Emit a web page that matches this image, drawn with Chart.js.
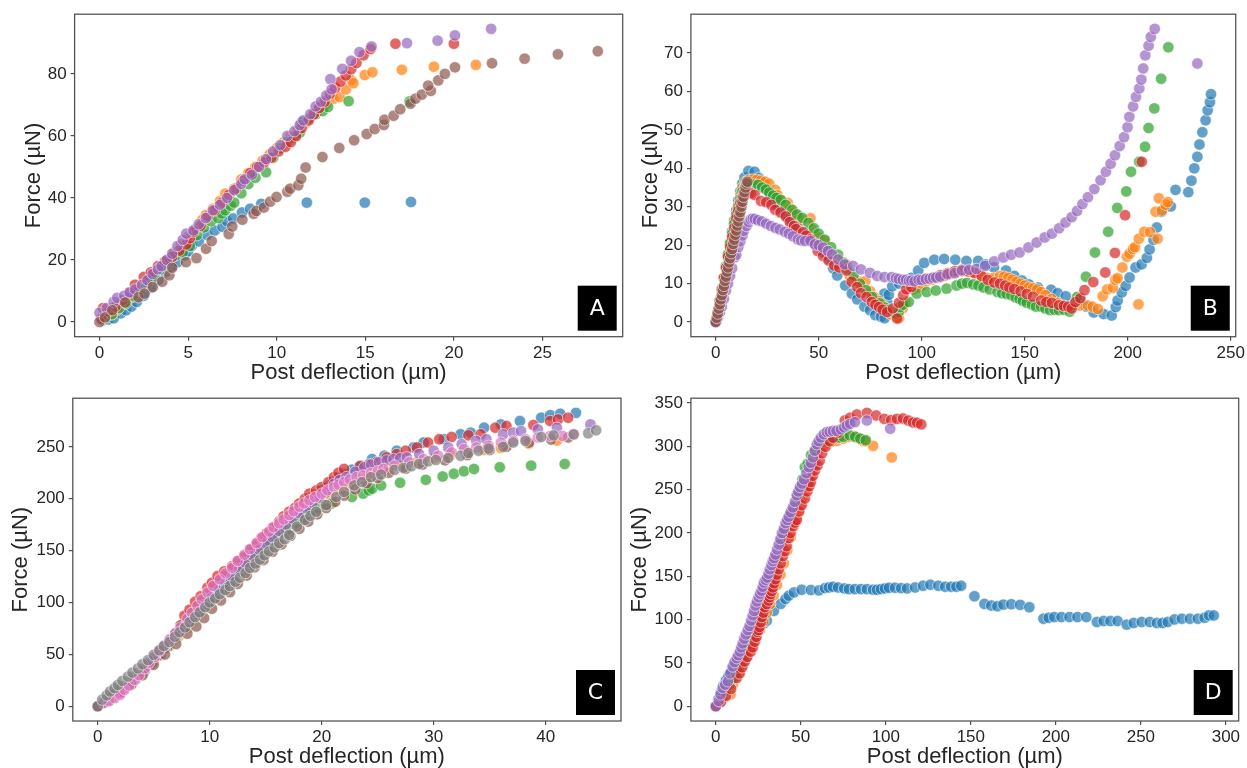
<!DOCTYPE html>
<html>
<head>
<meta charset="utf-8">
<script src="https://cdn.jsdelivr.net/npm/chart.js@4.4.0/dist/chart.umd.min.js"></script>
<style>
  html, body { margin: 0; padding: 0; background: #fff; }
  body { width: 1247px; height: 768px; position: relative; overflow: hidden; }
  canvas { position: absolute; }
</style>
</head>
<body>
<canvas id="cA" width="630" height="384" style="left:0;top:0"></canvas>
<canvas id="cB" width="617" height="384" style="left:630px;top:0"></canvas>
<canvas id="cC" width="630" height="384" style="left:0;top:384px"></canvas>
<canvas id="cD" width="617" height="384" style="left:630px;top:384px"></canvas>
<script>
// ---------------- DATA ----------------
const xTitle = 'Post deflection (µm)';
const yTitle = 'Force (µN)';
const panelLetters = ['A', 'B', 'C', 'D'];

const A_xticks = [0, 5, 10, 15, 20, 25];
const A_yticks = [0, 20, 40, 60, 80];
const B_xticks = [0, 50, 100, 150, 200, 250];
const B_yticks = [0, 10, 20, 30, 40, 50, 60, 70];
const C_xticks = [0, 10, 20, 30, 40];
const C_yticks = [0, 50, 100, 150, 200, 250];
const D_xticks = [0, 50, 100, 150, 200, 250, 300];
const D_yticks = [0, 50, 100, 150, 200, 250, 300, 350];

// Panel A
const A_blue = [[0.2,0.5],[0.5,0.8],[0.8,1.2],[1.2,2.8],[1.5,3.8],[1.8,5],[2.1,6.5],[2.5,8.5],[2.9,11],[3.3,13.5],[3.7,16],[4.1,18],[4.4,19.3],[4.8,21.5],[5.0,22.8],[5.2,24.5],[5.6,26],[6.06,28.1],[6.5,29.5],[6.94,30.7],[7.2,32.5],[7.54,33.4],[8.04,35.3],[8.5,36.5],[9.13,38.1],[11.7,38.5],[14.97,38.5],[17.58,38.7]];
const A_orange = [[0.3,1.5],[0.7,2.5],[1.0,4],[1.4,6],[1.8,8],[2.2,10.5],[2.6,12.5],[3.0,15],[3.4,17.5],[3.8,20],[4.2,22.5],[4.6,25],[5.0,27.5],[5.4,30],[5.8,33],[6.0,34.5],[6.4,36.5],[6.8,39],[7.1,41.4],[7.6,43],[8.0,46],[8.4,48],[8.8,50],[9.2,52],[9.6,54],[10.0,56],[10.4,58],[10.8,60],[11.2,62],[11.6,64],[12.0,66.5],[12.4,69],[12.8,70.5],[13.2,72],[13.56,72.5],[13.9,75],[14.2,78],[14.33,77],[14.97,79.6],[15.4,80.5],[17.06,81.3],[18.87,82.3],[21.24,82.9]];
const A_green = [[0.3,1],[0.7,2.5],[1.1,4.5],[1.5,6],[1.9,8.5],[2.3,10.5],[2.7,12.5],[3.1,14.5],[3.5,17],[3.9,19.5],[4.3,21.5],[4.7,22.5],[5.1,24.5],[5.5,28],[5.9,30.5],[6.3,32.5],[6.7,33.5],[6.9,35],[7.1,36],[7.4,37.5],[7.6,38.5],[8.0,41.5],[8.4,44.5],[8.8,46.5],[9.4,48.3],[9.8,53],[10.2,56],[10.6,58],[11.0,59.5],[11.3,61],[11.4,64.3],[11.8,65.5],[12.2,67],[12.6,68],[12.9,69.3],[14.06,71.2],[17.5,71.1]];
const A_red = [[0.1,1],[0.2,4.5],[0.5,3.5],[0.9,5],[1.3,7],[1.7,9.5],[2.0,12],[2.5,14.5],[2.9,16],[3.3,18],[3.7,19.5],[4.1,21],[4.5,23],[4.9,25],[5.1,27],[5.3,29],[5.7,31],[6.1,34],[6.5,36],[6.9,38.5],[7.3,41],[7.7,43],[8.1,45.5],[8.5,48],[8.9,50],[9.3,51.5],[9.7,53],[10.1,55],[10.5,56.5],[10.8,58],[11.1,60],[11.4,62.5],[11.8,65],[12.1,67],[12.4,69],[12.7,71],[13.0,73.5],[13.3,75.5],[13.6,77.5],[13.9,79.5],[14.2,81.5],[14.5,83.5],[14.9,86],[15.3,88],[16.7,89.7],[20.0,89.7]];
const A_purple = [[0.0,3],[0.4,4.5],[0.8,6.5],[1.0,7.8],[1.4,8.5],[1.7,9.5],[2.0,10.5],[2.4,12],[2.7,13.5],[3.0,15.5],[3.3,17],[3.5,18],[3.8,20],[4.1,22],[4.4,24.5],[4.7,26.5],[4.9,28.5],[5.3,29.5],[5.6,31.5],[6.0,33.5],[6.4,36],[6.8,37.8],[7.2,40],[7.6,42.5],[8.0,44.5],[8.2,46],[8.6,47.5],[9.0,50],[9.4,52.5],[9.8,55],[10.2,57],[10.6,60],[11.0,61.5],[11.3,63.5],[11.5,65],[11.9,67],[12.2,69.5],[12.5,71],[12.8,73],[13.03,78.3],[13.1,75],[13.7,81.6],[14.2,84.2],[14.67,87.0],[15.35,88.8],[17.35,89.9],[19.08,90.7],[20.06,92.4],[22.1,94.5]];
const A_brown = [[0,0],[0.31,1.5],[0.72,3.8],[1.45,6.3],[2.2,8],[2.54,9.15],[3.01,11.3],[3.54,13],[3.94,15.1],[4.1,17.5],[4.88,19.3],[5.47,20.6],[6.01,23.6],[6.33,26.1],[7.29,28.4],[7.49,30.8],[8.06,33],[8.7,34.9],[8.85,35.8],[9.28,36.9],[9.63,38.8],[9.99,40.3],[10.6,42],[10.76,43],[11.22,44.1],[11.38,46.2],[11.63,49.8],[12.58,53.2],[13.53,56.1],[14.37,58.6],[15.08,60.6],[15.53,62.2],[16.05,63.5],[16.08,65.2],[16.6,66.5],[16.97,68.6],[17.55,70.4],[17.83,72],[18.19,73.3],[18.7,74.5],[18.55,76.2],[19.12,77.9],[19.49,80],[20.06,82.1],[22.15,83.4],[23.99,84.9],[25.87,86.3],[28.12,87.3]];

// Panel B
const B_blue = [[0,0],[1,2.5],[2,5.5],[3,8.7],[4,11.4],[5,14.6],[6,17.5],[7,20.3],[8,23.6],[9,26.4],[10,29],[11,31.6],[12,34],[13,36.1],[14,37.6],[15.9,39.3],[18.9,39.1],[21,37.5],[23,36],[25,34.5],[27,32.6],[29,31],[31,29.5],[33,28.1],[35.2,27],[37,26],[40,24.6],[43,23],[46,21.4],[49,20],[52,18.1],[55,16.4],[57,14],[59,12.1],[62.9,9.5],[66.1,7.4],[68.7,5.9],[72.2,4],[74.9,3.1],[77.5,1.8],[80.2,1.4],[82,1],[81.9,7.4],[83.2,5.3],[84,7.1],[85.7,9.3],[89,10],[92,10.5],[95,11.5],[98.3,13.4],[101.2,15.4],[106.1,16.2],[110.9,16.4],[116.3,16.2],[121.7,15.9],[127.4,15.9],[131,15],[135.1,14.2],[140.9,13.4],[145,12],[148.7,10.8],[152,9.8],[156.4,9],[162.8,8.4],[166,7.5],[169.9,6.7],[176.7,5.7],[180,4],[183.5,2.5],[188.3,2.1],[192.2,1.7],[194.2,3.9],[195.1,5.6],[197.1,7.7],[199,9.4],[200.9,11.6],[203.8,14.2],[206.7,15],[209.3,16.7],[210.6,18.9],[212.5,21.4],[214.1,24.6],[216.4,28.7],[220.9,30.1],[223.2,34.4],[229.4,33.8],[230.9,36.8],[232.3,40],[233.8,43],[234.8,46.2],[236.2,49.4],[237.8,52.5],[238.8,55.1],[239.9,57.2],[240.4,59.3]];
const B_orange = [[0,0],[1,2],[2,5],[3,8],[4,11.2],[5,14],[6,17.1],[7,20],[8,22.8],[9,25.5],[10,28],[11,30.5],[12,33],[13,35],[14.5,36.5],[16,37],[18,37.1],[20,37],[22,36.8],[24,36.5],[26,36],[28.9,34.4],[30,33],[32,31.5],[35,31],[36,29.5],[38,28.5],[40,27.5],[42,26.5],[46,27],[47,24],[50,22],[53,21.2],[55,18.5],[58,16.5],[60,15],[63.5,15],[65,12],[67,11],[70,10.5],[72.6,10.6],[75,8],[77,6.5],[79,5.5],[81,4.5],[83,3.5],[85,2],[87.8,1.4],[89,1],[90.9,3.6],[92,5],[94.3,9.1],[96,8.5],[98,9],[100,9.5],[102,10.5],[105,11],[108,11.5],[111,12],[114,12.5],[117,13],[120,13.2],[123,13],[126,12.5],[129,12],[132,11.5],[135,11.5],[138,12],[140,11.8],[142,11.5],[144,11],[146,10.5],[148,10],[150,9.5],[152,9],[154,8.8],[156,8.5],[158,7.8],[160,7],[163,6],[166,5],[169,4.2],[172,3.8],[176.7,4.3],[180.6,4.3],[183,4],[185.5,3.4],[187.8,6.7],[190,8.5],[192.8,8.9],[194,11],[195.1,11.4],[197.4,14.2],[199.6,17],[200.9,17.8],[202.5,19],[203.5,19.5],[205.2,4.6],[205.4,21.7],[208,23.5],[210.8,23.4],[213.5,28.7],[214.5,21.7],[215.1,32.2],[216.5,29],[218.4,30.5],[219.4,31.2]];
const B_green = [[0,0],[1,2.5],[2,5.4],[3,8.6],[4,11.5],[5,14.4],[6,17.6],[7,20.5],[8,23],[9,25.6],[10,28],[11,30],[12,32.1],[13,34],[14.5,35.5],[16,36],[18,35.8],[20.6,35.7],[22.5,35],[24.4,34.5],[26,33.7],[27.9,32.9],[29.5,32.3],[31.6,31.8],[34,30.5],[37.2,29.2],[39.5,28],[42.1,27.1],[45,25.8],[47.7,24.4],[50,23],[52.9,21.4],[56,19.5],[59.4,17.5],[62,15.5],[64,13.8],[66.9,12.1],[70,10],[73,8.3],[76,6.5],[79.7,4.9],[82,3.8],[83.8,3.1],[86,2.5],[87.3,2.2],[88.8,2.6],[89.6,3.9],[91,4.5],[93.7,5.2],[97.6,7.4],[102.4,7.8],[106.9,8.2],[112.1,8.7],[116.9,9.5],[119.5,10],[122,10.2],[125,9.8],[127.5,9.5],[130,9],[133,8.5],[136.8,7.8],[139,7.5],[141.2,7.3],[143.5,7],[145.6,6.4],[147.5,6],[149.1,5.5],[151,5],[153.5,4.5],[155.5,4],[157.9,4],[160,3.5],[162.3,3.1],[164.5,3.2],[166.6,3.1],[169,3.2],[171.8,2.7],[173.5,4.5],[175.4,6.5],[179.7,11.8],[184.1,18.1],[190.5,23.5],[194.9,29.7],[199.3,34],[201.6,39.1],[205.6,41.7],[208.4,45.6],[210.1,50.5],[212.9,55.6],[216.2,63.3],[219.7,71.5]];
const B_red = [[0,0],[1,2.4],[2,5.5],[3,8.4],[4,11.5],[5,14.1],[6,17],[7,19.5],[8,22.1],[9,24.5],[10,27],[11,29],[12,31],[13,32.5],[14,33.5],[15.5,34],[17,33.5],[18.9,33.1],[22,31.5],[24.5,31.2],[27,30.5],[28.9,29.2],[31.5,28.5],[34,27.5],[36,26],[38,25],[39,24.2],[42.5,23.4],[44,22.5],[46,21.5],[48,20.5],[49.5,18.5],[52.1,17.2],[54.8,16],[57.5,14.7],[60,14.2],[63.5,13.4],[66,10.5],[68.7,9.1],[70.5,7.5],[73.2,6.5],[75.8,5.2],[77.5,4.5],[79.3,3.9],[81,3.2],[83.2,2.6],[86,3.5],[88.1,0.9],[89,5],[91,7],[92.5,8.5],[95,9.1],[98.5,11],[102,11.3],[105.5,11.6],[109,12.2],[112.5,12.7],[116,13.2],[119.5,13.6],[122.5,13.2],[125.6,12.8],[129.1,12],[132,11],[135.2,10.3],[138,10],[140.5,9.5],[142.5,9],[144.9,8.6],[148,8],[151,7.3],[154,6.6],[158,5.6],[160.5,5.2],[163.2,5],[166.7,4.4],[169,4.2],[171.1,4],[172.8,3.5],[174.6,5.2],[177,6.2],[179,8.3],[183.3,10.4],[189.1,12.9],[193.8,18],[198.7,27.8],[206.8,41.7]];
const B_purple = [[0,0],[1,1],[2,2.5],[3,4],[4,6],[5,8.2],[6,10],[7,12],[8,14],[9.2,16.8],[10,17.5],[11,19.5],[12,21],[13,22.5],[13.6,23.7],[15,25],[16,26],[17,26.7],[18,26.9],[19,26.8],[20.5,26.5],[22.4,26.2],[24.5,25.6],[26.8,25],[29,24.5],[31.1,24.1],[33.5,23.5],[35.5,23],[37.5,22.3],[39.9,21.5],[41.5,21.2],[43.4,21.1],[46,21.1],[48.1,20.2],[50,20],[52.1,19.4],[54.5,18.5],[56.5,17.6],[59.5,16.3],[62.6,15],[66.7,14.6],[70.5,13.7],[74.9,12.8],[78.4,12],[81.9,11.7],[85.4,11.7],[87.5,11.4],[88.9,11.2],[90.8,11],[92.4,11],[93.8,10.7],[95,10.8],[96.5,10.6],[98.5,11],[100,10.9],[102,11.2],[103.8,11.3],[105.5,11.5],[107,11.6],[109,11.8],[112.5,12.4],[116,12.7],[119.5,13.4],[123,13.6],[126.5,13.8],[130.8,14.6],[135.2,15.8],[139.6,16.8],[143.4,17.5],[147.5,18.1],[151.8,19.4],[155.8,20.7],[159.7,22],[163.2,23],[166.7,24.4],[169.8,25.9],[172.8,27.3],[175.4,28.9],[178,30.7],[180.7,32.5],[183.8,34.6],[186.8,36.9],[189.4,39.1],[191.7,41.2],[193.8,43.4],[196.1,45.8],[198.2,48.1],[199.9,50.7],[200.8,53.4],[202.6,56.1],[204,58.6],[205.6,60.8],[206.6,63.1],[207.5,66],[208.5,69.4],[210.1,71.9],[211.2,74.2],[213.1,76.3],[233.8,67.3]];
const B_brown = [[0,0],[0.5,1.1],[1,2.2],[1.5,3.5],[2,4.6],[2.5,5.9],[3,7],[3.5,8.3],[4,9.4],[4.5,10.7],[5,11.8],[5.5,13.1],[6,14.2],[6.5,15.5],[7,16.6],[7.5,17.9],[8,19],[8.5,20.3],[9,21.4],[9.5,22.7],[10,23.8],[10.5,25.1],[11,26.2],[11.5,27.5],[12,28.6],[12.5,30],[13,31.3],[13.5,32.6],[14,33.8],[14.5,35],[15,36],[15.4,36.5]];

// Panel C
const C_blue = [[0,0],[0.5,3.5],[1,7.5],[1.5,11.5],[2,16],[2.5,20],[3,25],[3.5,30],[4,35],[4.5,41],[5,47],[5.5,53],[6,59],[6.5,65],[7,71],[7.5,78],[8,84],[8.5,90],[9,97],[9.5,103],[10,109],[10.5,115],[11,121],[11.5,126],[12,132],[12.5,137],[13,142],[13.5,148],[14,153],[14.5,158],[15,163],[15.5,168],[16,173],[16.5,178],[17,183],[17.5,188],[18,192],[18.5,196],[19,200],[19.5,204],[20,208],[20.5,212],[21,216],[21.5,220],[22,224],[22.7,228],[23.5,231.9],[24.5,238.2],[25.6,241.4],[26.7,246.2],[28.2,249.4],[29.1,254.1],[30.9,257.3],[32.4,262.1],[33.3,263.7],[34.5,268.4],[36,271.6],[37.7,274.8],[39.6,278],[40.4,280.5],[41.3,281.8],[42.7,282.7]];
const C_orange = [[0,0],[0.8,5],[1.6,11],[2.4,17],[3.2,24],[4,32],[4.8,40],[5.6,49],[6.4,58],[7.2,67],[8,76],[8.8,86],[9.6,95],[10.4,104],[11.2,113],[12,122],[12.8,130],[13.6,139],[14.4,147],[15.2,155],[16,163],[16.8,170],[17.6,177],[18.4,184],[19.2,190],[20,196],[20.8,202],[21.6,208],[22.4,213],[23.2,218],[24,222],[25,226],[26,229],[27,232],[28.5,235],[30,239],[31.5,242],[33,245],[34.5,247],[36,249],[38.5,253],[41,256]];
const C_green = [[0,0],[0.7,4],[1.4,9],[2.1,14],[2.8,20],[3.5,27],[4.2,34],[4.9,42],[5.6,50],[6.3,58],[7,66],[7.7,74],[8.4,82],[9.1,90],[9.8,98],[10.5,106],[11.2,114],[11.9,122],[12.6,130],[13.3,137],[14,144],[14.7,151],[15.4,158],[16.1,164],[16.8,170],[17.5,176],[18.2,181],[18.9,186],[19.6,191],[20.3,194],[20.9,195.4],[22.7,201.7],[23.7,204.9],[24.2,208],[24.5,209.7],[25.3,212.8],[27,215.4],[29.3,218.2],[30.8,221.4],[31.8,224],[32.7,226.5],[33.6,228.7],[35.9,230.3],[38.7,231.9],[41.7,233.5]];
const C_red = [[0,0],[0.5,3],[1,7],[1.5,11],[2,15],[2.5,19],[3,24],[3.5,29],[4,34],[4.5,40],[5,46],[5.5,52],[6,58],[6.5,64],[7,71],[7.4,78],[7.75,87.4],[8.2,93],[8.7,100.7],[9.2,106],[9.8,114.4],[10.2,119],[10.7,125.5],[11.3,130],[12,135],[12.5,140],[13.1,144.5],[13.6,151],[14.2,157.2],[14.6,162],[15.1,166.8],[15.6,172],[16.2,177.9],[16.6,183],[17.1,187.4],[17.6,191],[18,195.4],[18.5,200],[18.9,204.9],[19.5,208],[20,211.2],[20.6,216],[21.1,220.8],[21.5,225],[22,228.7],[23.4,231.3],[24.2,233],[24.9,235.1],[25.8,239.8],[26.7,243],[27.5,246.2],[28.5,249.4],[29.5,254.1],[30.5,257.3],[31.6,259.5],[33.1,261.1],[34.2,262.1],[35.5,268.4],[36.5,270],[38.9,271],[40.4,274.8],[41.1,276.4],[42,278]];
const C_purple = [[0,0],[0.6,4],[1.2,8],[1.8,13],[2.4,18],[3,23],[3.6,29],[4.2,35],[4.8,42],[5.4,49],[6,56],[6.6,63],[7.2,70],[7.8,77],[8.4,84],[9,91],[9.6,98],[10.2,105],[10.8,112],[11.4,119],[12,125],[12.6,132],[13.2,138],[13.8,145],[14.4,151],[15,157],[15.6,163],[16.2,169],[16.8,175],[17.4,181],[18,186],[18.6,191],[19.2,196],[19.8,201],[20.4,206],[21.1,214.4],[21.6,218],[22.2,220.8],[23,226],[23.8,230.3],[24.4,233],[25.1,235.1],[25.8,237],[26.4,238.2],[27,239],[27.6,239.8],[28.7,243],[30,246.2],[31.3,249.4],[32.5,252.5],[33.8,255.7],[34.7,257.3],[36.2,262.1],[37.1,263.7],[37.8,265.2],[39.3,266.8],[41,268.4],[44,271.6]];
const C_brown = [[0,0],[1,6],[2,13],[3,21],[4,30],[5,40],[6,50],[7,60],[8,70],[8.8,77],[9.5,85],[10.2,94],[11,102],[11.8,110],[12.5,118],[13.3,126],[14,134],[14.8,141],[15.6,149],[16.4,156],[17.2,164],[18,171],[18.8,178],[19.6,185],[20.4,191],[21.2,197],[22,203],[23,209],[24,215],[25,220],[26,225],[27.5,229],[29,233],[31,237],[33,242],[35,247],[36.5,250],[38.5,254],[40.5,257],[42,259]];
const C_pink = [[0.5,3.2],[1,5],[1.5,7.9],[2,11],[2.4,15.9],[2.8,20],[3.3,25.4],[3.7,30],[4.2,36.5],[4.6,42],[5.1,47.6],[5.5,53],[6,58.8],[6.4,64],[6.9,69.9],[7.4,76],[8,84.2],[8.4,90],[8.9,96.9],[9.3,103],[9.8,109.6],[10.3,116],[10.9,122.3],[11.4,128],[12,133.4],[12.5,140],[13.1,146.1],[13.6,151.5],[14.2,157.2],[14.7,163],[15.3,168.4],[15.7,172.5],[16.2,176.3],[16.6,180],[17.1,184.2],[17.5,188],[18,192.2],[18.4,195.5],[18.9,198.5],[19.4,201.5],[20,204.9],[20.5,208],[21.1,211.2],[21.5,213.5],[22,216],[22.5,218.5],[23.1,220.8],[23.7,222.5],[24.4,224.6],[25,226.5],[25.5,228.7],[26.5,231.9],[27.8,235.1],[29.1,238.2],[30.4,241.4],[31.6,244.6],[32.7,247.8],[33.8,249.4],[34.9,251],[36,254.1],[37.1,255.7],[38.2,257.3],[39.3,258.9],[40.4,260.5],[41.5,260.5],[42.5,262.1]];
const C_gray = [[0,0],[0.4,6.4],[0.8,10.5],[1.1,14.3],[1.5,17.5],[1.8,20.6],[2.2,24.5],[2.7,28.6],[3.1,32.5],[3.6,36.5],[4,40.5],[4.5,44.5],[5,49.5],[5.5,54],[5.9,58],[6.4,61.9],[6.9,67],[7.3,71.5],[7.8,76],[8.2,81],[8.7,86],[9.1,90.5],[9.6,95.5],[10,100.1],[10.5,104],[10.9,108],[11.4,112],[11.8,115.9],[12.3,120],[12.7,123.9],[13.2,128.5],[13.6,133.4],[14.1,137.5],[14.5,141.4],[14.9,145.5],[15.3,149.3],[15.8,153],[16.2,157.2],[16.7,161],[17.1,165.2],[17.8,173.1],[18.5,179.5],[19,183.5],[19.5,187.4],[20.4,193.8],[21.3,201.7],[22,206.5],[22.9,212.8],[23.6,216],[24.4,220.8],[25.3,223.3],[26.5,227.8],[27.3,229.7],[28,231.3],[28.7,233.5],[29.5,236],[30.2,237.3],[31.3,239.2],[32.4,241.4],[33.1,244],[34,246.2],[34.9,248.4],[36.2,250],[37.1,254.1],[38.2,255.7],[39.6,259.5],[40.7,261],[42.5,262],[43.8,263],[44.5,265.9]];

// Panel D
const D_blue = [[0,0],[1.5,8],[3,16],[4.5,24],[6,30],[7.5,35],[9,40],[10.5,45],[12,50],[14,56],[16,62],[18,68],[20,74],[22,80],[24,86],[26,91],[28,95],[30,98.8],[34.2,110.2],[38.2,118.2],[41,123.9],[42.9,127.7],[46,131.5],[50.5,134.5],[55.9,134.2],[60.6,133.8],[64.2,136.4],[66.5,137.2],[68.9,138],[71.9,137.2],[75.5,136.1],[78.3,135.3],[81.8,135.3],[85.4,135.3],[88.9,135.3],[92.5,134.5],[94.8,134.5],[97.2,135.3],[99.5,136.1],[101.9,136.8],[105.4,136.8],[109,136.4],[112.5,136.1],[117.2,137.2],[121.9,139.1],[126.2,140.3],[130.9,139.1],[134.9,138],[138.4,138],[141.5,138],[144.3,139.1],[152.1,127],[158,118.2],[162,116.3],[165.6,115.5],[169.1,117.4],[173.8,117.8],[179,117.1],[184.4,114.4],[192.7,101.1],[195.8,102.2],[199.1,103],[203.3,103],[208,103],[212.7,103],[217.9,103],[224.1,97.3],[228.1,98.4],[232.1,98.4],[236.3,98.4],[241.7,94.3],[245.8,96.2],[250.5,97.3],[255.2,97.3],[259.4,96.2],[262.7,96.2],[265.8,97.3],[269.8,100.3],[274.1,101.1],[278.8,101.1],[283.5,101.1],[287.5,102.2],[290.1,104.9],[292.9,104.9]];
const D_orange = [[0,0],[3,6],[5,10],[8.7,13.7],[10,25],[12,33],[14,40],[16,48],[18,56],[20,64],[22,72],[24,80],[26,88],[28,98],[30,108],[32,118],[34,128],[36,140],[38,152],[40,165],[42,180],[44,195],[45.8,207.5],[47.6,217],[48.8,224.6],[50,233],[51.2,241.7],[52.3,247],[53.5,253.1],[54.7,259],[55.9,264.5],[57.5,278],[59.4,291.1],[62,298],[65,303],[68,305.5],[71.2,306.3],[75,309],[78,311],[81.8,312.1],[83.5,310],[85.4,308.2],[86.6,306.3],[88,306],[92.5,300.6],[103.5,287.3]];
const D_green = [[0,0],[2,5],[4,10],[6,18],[8,25],[10,32],[12,38],[13.4,44.1],[15,52],[17,62],[19,72],[21,82],[23,92],[25,103],[27,113],[29,124],[31,135],[33,146],[35,158],[36.5,170],[38.2,190.4],[40,200],[42,212],[44,222],[46.5,232.2],[48,242],[50,252],[51,262],[52.4,276],[54,280],[56,290],[58,295],[60,300],[63,305],[65,307],[67.7,308.2],[70,309],[72.4,310.2],[75,311],[78.8,312.8],[82,311],[85,309],[88.2,307.1]];
const D_red = [[0,0],[3,5],[6,12],[9,20],[12.3,32.7],[14,38],[15.5,45],[17,51.7],[18.5,57],[20.5,63.1],[21.7,68],[22.9,74.5],[23.8,80],[24.5,85.9],[25.1,88],[25.7,91.6],[26.4,97],[27.1,103],[28,108],[28.8,114.4],[30,118],[31.1,122],[31.7,126],[32.3,129.6],[32.9,133],[33.5,137.2],[34.3,142],[35.1,146.7],[36,152],[37,158.1],[38.2,165],[39.4,173.3],[40.5,179],[41.7,184.7],[42.9,194.2],[44,200],[45.3,208],[46.5,212],[47.6,215.1],[49,225],[50.5,232],[52.4,239.8],[53.8,248],[55,254],[55.9,258.8],[57,266],[58.3,272.1],[59.8,278],[61.1,283.5],[62.5,292],[64.6,299.5],[67,306],[69,310],[72,316],[75.9,329.9],[79,333],[83,336.8],[88.9,338.7],[94.3,335.6],[99.1,331.8],[103.1,330.3],[106.6,331.8],[110.1,332.2],[113.2,329.9],[116,327.6],[118.4,327.3],[120.8,325.4]];
const D_purple = [[0,0],[1.7,6.1],[2.8,13.7],[4,21.3],[5.5,25],[7.1,28.9],[8.5,38],[9.9,46],[11,51],[12.3,55.5],[13.2,59],[14.2,63.1],[15,68],[15.8,72.6],[16.7,78],[17.7,82.9],[18.8,88],[19.8,92.7],[20.8,99],[21.7,104.9],[22.5,110],[23.3,116.3],[24.2,121],[25.2,125.8],[26,130],[26.9,133.4],[27.6,138],[28.3,142.9],[29.3,146],[30.2,148.6],[31,153],[31.8,158.1],[32.7,163],[33.5,167.6],[34.3,171],[35.1,175.2],[36,181],[37,186.6],[38,193],[38.9,199.9],[40,205],[41,211.3],[42,215],[42.9,218.9],[44,224],[45.3,229.6],[46.5,236],[47.6,243.6],[48.5,248],[49.5,253.1],[50.7,257],[51.9,261.9],[53.3,269],[54.7,276],[55.9,281],[57.1,287.3],[58.3,295],[59.4,302.5],[60.5,306],[61.8,310.2],[63.5,314],[65.3,316.6],[67,317],[68.9,317.8],[71,318],[73.6,319.6],[75.5,322],[77.1,324.2],[79,326],[81.8,328],[88.9,329.9],[102.6,320.4]];

// ---------------- STYLE ----------------
const tab10 = {
  blue: [31,119,180], orange: [255,127,14], green: [44,160,44], red: [214,39,40],
  purple: [148,103,189], brown: [140,86,75], pink: [227,119,194], gray: [127,127,127]
};
const ALPHA = 0.7;
const FONT = '"Liberation Sans", Arial, sans-serif';
const TEXT = '#262626';
const SPINE = '#4f4f4f';

function ds(name, pts, i) {
  const c = tab10[name];
  return {
    label: name,
    data: pts.map(p => ({x: p[0], y: p[1]})),
    backgroundColor: `rgba(${c[0]},${c[1]},${c[2]},${ALPHA})`,
    borderColor: `rgba(255,255,255,${ALPHA})`,
    borderWidth: 0.8,
    pointRadius: 5.7,
    pointHoverRadius: 5.7,
    order: -i
  };
}

function limits(series, axis) {
  let mx = -Infinity, mn = Infinity;
  series.forEach(s => s.forEach(p => { mx = Math.max(mx, p[axis]); mn = Math.min(mn, p[axis]); }));
  const m = (mx - mn) * 0.05;
  return [mn - m, mx + m];
}

const decor = {
  id: 'decor',
  afterDraw(chart, args, o) {
    const {ctx, chartArea: a} = chart;
    ctx.save();
    ctx.strokeStyle = SPINE;
    ctx.lineWidth = 1.25;
    ctx.strokeRect(a.left, a.top, a.right - a.left, a.bottom - a.top);
    const bw = 39, bh = 45;
    const bx = a.right - 6 - bw, by = a.bottom - 6 - bh;
    ctx.fillStyle = '#000';
    ctx.fillRect(bx, by, bw, bh);
    ctx.fillStyle = '#fff';
    ctx.font = '22px "DejaVu Sans", sans-serif';
    ctx.textAlign = 'center';
    ctx.textBaseline = 'middle';
    ctx.fillText(o.letter, bx + bw / 2, by + bh / 2 + 1);
    ctx.fillStyle = TEXT;
    ctx.font = '22px ' + FONT;
    ctx.fillText(xTitle, (a.left + a.right) / 2, a.bottom + 36);
    ctx.translate(o.ytx, (a.top + a.bottom) / 2);
    ctx.rotate(-Math.PI / 2);
    ctx.fillText(yTitle, 0, 0);
    ctx.restore();
  }
};

function panel(id, names, series, xticks, yticks, letter, area, ytx) {
  const cv = document.getElementById(id);
  const W = cv.width, H = cv.height;
  const xl = limits(series, 0), yl = limits(series, 1);
  const axisCommon = (ticks) => ({
    type: 'linear',
    grid: { display: true, drawOnChartArea: false, drawTicks: true, tickLength: 4, color: SPINE, lineWidth: 1.2 },
    border: { display: false },
    ticks: { color: TEXT, font: { family: FONT, size: 17 }, padding: 2, maxRotation: 0, autoSkip: false },
    afterBuildTicks: (s) => { s.ticks = ticks.map(v => ({ value: v })); }
  });
  const xs = axisCommon(xticks);
  xs.min = xl[0]; xs.max = xl[1]; xs.position = 'bottom';
  xs.afterFit = (s) => { s.height = H - area.bottom; };
  const ys = axisCommon(yticks);
  ys.min = yl[0]; ys.max = yl[1]; ys.position = 'left';
  ys.ticks.padding = 4;
  ys.afterFit = (s) => { s.width = area.left; };
  new Chart(cv, {
    type: 'scatter',
    data: { datasets: series.map((s, i) => ds(names[i], s, i)) },
    options: {
      responsive: false,
      animation: false,
      devicePixelRatio: 1,
      layout: { autoPadding: false, padding: { top: area.top, right: W - area.right, left: 0, bottom: 0 } },
      plugins: { legend: { display: false }, tooltip: { enabled: false }, decor: { letter, ytx } },
      events: [],
      scales: { x: xs, y: ys }
    },
    plugins: [decor]
  });
}

panel('cA', ['blue','orange','green','red','purple','brown'],
  [A_blue, A_orange, A_green, A_red, A_purple, A_brown],
  A_xticks, A_yticks, panelLetters[0], { left: 74.6, right: 622.7, top: 11, bottom: 336.7 }, 33.5);
panel('cB', ['blue','orange','green','red','purple','brown'],
  [B_blue, B_orange, B_green, B_red, B_purple, B_brown],
  B_xticks, B_yticks, panelLetters[1], { left: 60.9, right: 610, top: 11, bottom: 336.7 }, 21);
panel('cC', ['blue','orange','green','red','purple','brown','pink','gray'],
  [C_blue, C_orange, C_green, C_red, C_purple, C_brown, C_pink, C_gray],
  C_xticks, C_yticks, panelLetters[2], { left: 72.8, right: 621, top: 12, bottom: 337 }, 21);
panel('cD', ['blue','orange','green','red','purple'],
  [D_blue, D_orange, D_green, D_red, D_purple],
  D_xticks, D_yticks, panelLetters[3], { left: 60.9, right: 608.7, top: 12, bottom: 337 }, 10);
</script>
</body>
</html>
